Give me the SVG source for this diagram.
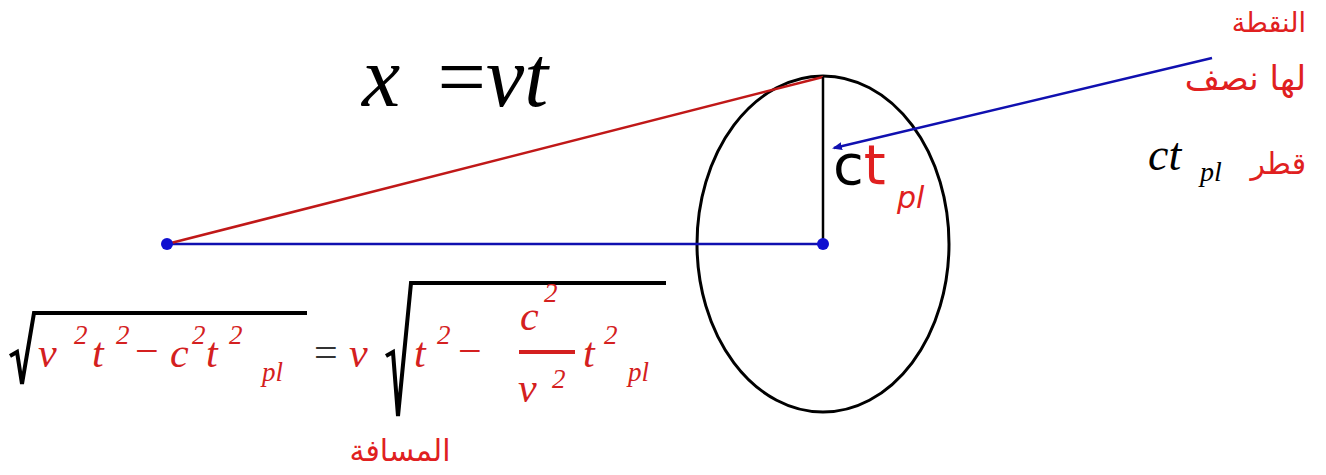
<svg xmlns="http://www.w3.org/2000/svg" width="1326" height="475" viewBox="0 0 1326 475">
<style>
.m{font-family:"Liberation Serif",serif;font-style:italic}
.r{fill:#d42020}
.k{fill:#000}
.ar{font-family:"DejaVu Sans",sans-serif;fill:#e02020}
.blue{stroke:#1010b0;stroke-width:2.5;fill:none}
</style>
<defs>
<marker id="ah" markerWidth="10" markerHeight="8" refX="8" refY="4" orient="auto" markerUnits="userSpaceOnUse">
<path d="M0,0 L10,4 L0,8 Z" fill="#1010b0"/>
</marker>
</defs>
<rect width="1326" height="475" fill="#fff"/>
<g id="ellipse"><ellipse cx="823" cy="244" rx="126" ry="168" fill="none" stroke="#000" stroke-width="3"/></g>
<g id="connectors">
<line x1="167" y1="244" x2="823" y2="244" class="blue"/>
<line x1="167" y1="244" x2="823" y2="77" stroke="#c01818" stroke-width="2.5"/>
<line x1="823" y1="77" x2="823" y2="244" stroke="#000" stroke-width="2.5"/>
<line x1="1212" y1="58" x2="834" y2="148" class="blue" marker-end="url(#ah)"/>
</g>
<g id="p1"><circle cx="167" cy="244" r="6" fill="#1010d0"/></g>
<g id="p2"><circle cx="823" cy="244" r="6" fill="#1010d0"/></g>
<g id="eq-top"><text y="106" class="m k" font-size="86"><tspan x="362">x</tspan><tspan x="432">=</tspan><tspan x="486">vt</tspan></text></g>
<g id="ctpl">
<text x="833" y="184" font-family="DejaVu Sans,sans-serif" font-size="56"><tspan fill="#000">c</tspan><tspan fill="#e02020">t</tspan></text>
<text x="897" y="208" font-family="DejaVu Sans,sans-serif" font-size="30" font-style="italic" fill="#e02020">pl</text>
</g>
<g id="label-right">
<text x="1306" y="32" class="ar" font-size="27" text-anchor="end">النقطة</text>
<text x="1306" y="90" class="ar" font-size="34" text-anchor="end">لها نصف</text>
<text x="1306" y="174" class="ar" font-size="30" text-anchor="end">قطر</text>
<text x="1148" y="170" class="m k" font-size="46">ct</text>
<text x="1200" y="181" class="m k" font-size="28">pl</text>
</g>
<g id="eq-bottom">
<path d="M10,356 L17,352 L22,384 L34,313 L307,313" fill="none" stroke="#000" stroke-width="4" stroke-linejoin="miter"/>
<text class="m r" font-size="42"><tspan x="38" y="367">v</tspan><tspan x="92" y="367">t</tspan><tspan x="170" y="367">c</tspan><tspan x="206" y="367">t</tspan></text>
<text class="m r" font-size="27"><tspan x="74" y="344">2</tspan><tspan x="116" y="344">2</tspan><tspan x="192" y="344">2</tspan><tspan x="229" y="344">2</tspan><tspan x="262" y="381">pl</tspan></text>
<text x="135" y="365" font-family="Liberation Serif,serif" font-size="42" class="r">−</text>
<text x="314" y="366" font-family="Liberation Serif,serif" font-size="42" fill="#333">=</text>
<text x="349" y="367" class="m r" font-size="42">v</text>
<path d="M386,356 L393,352 L398,416 L411,283 L666,283" fill="none" stroke="#000" stroke-width="4"/>
<text class="m r" font-size="42"><tspan x="414" y="367">t</tspan><tspan x="520" y="330">c</tspan><tspan x="518" y="402">v</tspan><tspan x="583" y="367">t</tspan></text>
<text class="m r" font-size="27"><tspan x="437" y="344">2</tspan><tspan x="544" y="302">2</tspan><tspan x="552" y="388">2</tspan><tspan x="604" y="344">2</tspan><tspan x="628" y="381">pl</tspan></text>
<text x="458" y="365" font-family="Liberation Serif,serif" font-size="42" class="r">−</text>
<line x1="519" y1="352" x2="575" y2="352" stroke="#d42020" stroke-width="4"/>
</g>
<g id="label-bottom"><text x="400" y="461" class="ar" font-size="30" text-anchor="middle">المسافة</text></g>
</svg>
